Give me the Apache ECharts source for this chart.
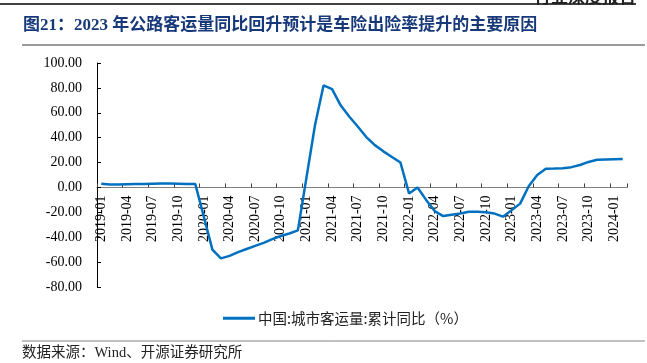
<!DOCTYPE html>
<html>
<head>
<meta charset="utf-8">
<script src="https://cdn.jsdelivr.net/npm/echarts@6/dist/echarts.min.js"></script>
<style>html,body{margin:0;padding:0;background:#fff;}#c{width:647px;height:363px;}</style>
</head>
<body>
<div id="c"></div>
<script>
var categories = [
  '2019-01','2019-02','2019-03','2019-04','2019-05','2019-06','2019-07','2019-08','2019-09','2019-10','2019-11','2019-12',
  '2020-01','2020-02','2020-03','2020-04','2020-05','2020-06','2020-07','2020-08','2020-09','2020-10','2020-11','2020-12',
  '2021-01','2021-02','2021-03','2021-04','2021-05','2021-06','2021-07','2021-08','2021-09','2021-10','2021-11','2021-12',
  '2022-01','2022-02','2022-03','2022-04','2022-05','2022-06','2022-07','2022-08','2022-09','2022-10','2022-11','2022-12',
  '2023-01','2023-02','2023-03','2023-04','2023-05','2023-06','2023-07','2023-08','2023-09','2023-10','2023-11','2023-12',
  '2024-01','2024-02'
];
var seriesName = '中国:城市客运量:累计同比（%）';
var values = [
  3.0, 2.3, 2.4, 2.6, 2.7, 2.8, 3.0, 3.1, 3.1, 3.0, 2.8, 2.7,
  null, -50.0, -57.0, -55.0, -52.0, -49.5, -47.0, -44.5, -41.5, -39.0, -37.0, -34.5,
  null, 50.0, 82.0, 79.0, 66.0, 57.0, 49.0, 40.5, 34.0, 29.0, 24.5, 20.0,
  -4.8, 0.0, -10.0, -19.0, -23.0, -22.0, -21.0, -19.5, -19.5, -20.0, -21.0, -23.5,
  null, -13.0, 1.0, 10.0, 15.0, 15.2, 15.5, 16.3, 18.0, 20.5, 22.3, 22.5,
  null, 22.8
];
var yMin = -80, yMax = 100, yStep = 20;
var titleText = '图21：2023 年公路客运量同比回升预计是车险出险率提升的主要原因';
var sourceText = '数据来源：Wind、开源证券研究所';
var headerText = '行业深度报告';

var gridTop = 63, gridBottom = 76, H = 363;
var plotH = H - gridTop - gridBottom;
var zeroOffset = -plotH * (0 - yMin) / (yMax - yMin);

var serif = '"Liberation Serif", "Noto Sans CJK SC", serif';
var chart = echarts.init(document.getElementById('c'), null, {renderer: 'canvas'});
chart.setOption({
  animation: false,
  backgroundColor: '#ffffff',
  grid: {left: 97, right: 20, top: gridTop, bottom: gridBottom, containLabel: false},
  legend: {
    data: [{name: seriesName, icon: 'rect'}],
    left: 218, top: 306,
    itemWidth: 32, itemHeight: 3, itemGap: 10,
    textStyle: {fontFamily: '"Noto Sans CJK SC", sans-serif', fontSize: 14.5, color: '#222', padding: [0,0,0,-2]}
  },
  xAxis: {
    type: 'category',
    data: categories,
    boundaryGap: true,
    position: 'bottom',
    offset: zeroOffset,
    axisLine: {onZero: false, lineStyle: {color: '#808080', width: 1}},
    axisTick: {show: true, inside: true, length: 4, interval: 2, lineStyle: {color: '#404040'}},
    axisLabel: {interval: 2, rotate: 90, margin: 8, fontFamily: serif, fontSize: 14, color: '#000'},
    splitLine: {show: false}
  },
  yAxis: {
    type: 'value',
    min: yMin, max: yMax, interval: yStep,
    axisLine: {show: true, lineStyle: {color: '#000', width: 1}},
    axisTick: {show: true, inside: true, length: 4, lineStyle: {color: '#000'}},
    axisLabel: {margin: 15, fontFamily: serif, fontSize: 14, color: '#000', formatter: function (v) { return v.toFixed(2); }},
    splitLine: {show: false}
  },
  series: [{
    name: seriesName,
    type: 'line',
    data: values,
    connectNulls: true,
    showSymbol: false,
    symbol: 'none',
    lineStyle: {color: '#0070C0', width: 2.5},
    itemStyle: {color: '#0070C0'}
  }],
  graphic: [
    {type: 'line', shape: {x1: 0, y1: 4, x2: 636, y2: 4}, style: {stroke: '#000', lineWidth: 1.5}},
    {type: 'text', right: 11, top: -12, style: {text: headerText, font: 'bold 17px "Noto Sans CJK SC"', fill: '#222'}},
    {type: 'text', left: 23, top: 17, style: {text: titleText, font: 'bold 17px "Liberation Serif", "Noto Sans CJK SC"', fill: '#17397a'}},
    {type: 'line', shape: {x1: 22, y1: 45, x2: 645, y2: 45}, style: {stroke: '#9a9a9a', lineWidth: 2}},
    {type: 'line', shape: {x1: 22, y1: 341, x2: 645, y2: 341}, style: {stroke: '#808080', lineWidth: 1}},
    {type: 'text', left: 22, top: 346, style: {text: sourceText, font: '14.5px "Liberation Serif", "Noto Sans CJK SC"', fill: '#222'}}
  ]
});
</script>
</body>
</html>
